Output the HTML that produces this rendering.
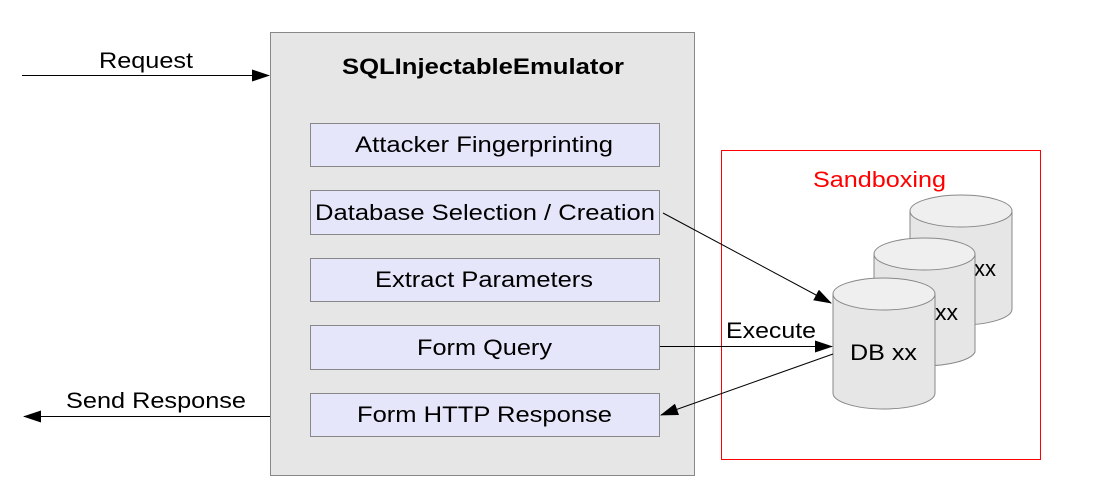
<!DOCTYPE html>
<html><head><style>
body{margin:0;background:#fff;width:1098px;height:493px;overflow:hidden}
svg text{font-family:"Liberation Sans",sans-serif}
</style></head><body>
<svg width="1098" height="493" viewBox="0 0 1098 493">
<defs>
<marker id="a" markerWidth="18" markerHeight="12" refX="17" refY="6" orient="auto" markerUnits="userSpaceOnUse"><path d="M0,0 L18,6 L0,12 Z" fill="#000"/></marker>
</defs>
<rect x="270.5" y="32.5" width="424" height="443" fill="#e6e6e6" stroke="#888"/>
<text x="342" y="74" font-size="22" font-weight="bold" textLength="282" lengthAdjust="spacingAndGlyphs">SQLInjectableEmulator</text>
<g fill="#e6e6fa" stroke="#888">
<rect x="310.5" y="123.5" width="349" height="43"/>
<rect x="310.5" y="190.5" width="349" height="44"/>
<rect x="310.5" y="258.5" width="349" height="43"/>
<rect x="310.5" y="325.5" width="349" height="44"/>
<rect x="310.5" y="393.5" width="349" height="43"/>
</g>
<g font-size="22" lengthAdjust="spacingAndGlyphs">
<text x="355" y="152" textLength="258" lengthAdjust="spacingAndGlyphs">Attacker Fingerprinting</text>
<text x="315" y="220" textLength="340" lengthAdjust="spacingAndGlyphs">Database Selection / Creation</text>
<text x="375" y="287" textLength="218" lengthAdjust="spacingAndGlyphs">Extract Parameters</text>
<text x="417" y="355" textLength="135" lengthAdjust="spacingAndGlyphs">Form Query</text>
<text x="357" y="422" textLength="255" lengthAdjust="spacingAndGlyphs">Form HTTP Response</text>
<text x="99" y="68" textLength="94" lengthAdjust="spacingAndGlyphs">Request</text>
<text x="66" y="408" textLength="180" lengthAdjust="spacingAndGlyphs">Send Response</text>
</g>
<line x1="22" y1="75.5" x2="269" y2="75.5" stroke="#000" marker-end="url(#a)"/>
<line x1="270" y1="416.5" x2="24" y2="416.5" stroke="#000" marker-end="url(#a)"/>
<rect x="721.5" y="150.5" width="319" height="309" fill="none" stroke="#f00"/>
<text x="813" y="187" font-size="22" fill="#f00" textLength="133" lengthAdjust="spacingAndGlyphs">Sandboxing</text>
<g stroke="#888" fill="#e6e6e6">
<path d="M910,211 V309 A51,16 0 0 0 1012,309 V211"/>
<ellipse cx="961" cy="211" rx="51" ry="16" fill="#efefef"/>
</g>
<text x="974" y="276" font-size="22" textLength="22" lengthAdjust="spacingAndGlyphs">xx</text>
<g stroke="#888" fill="#e6e6e6">
<path d="M874,254 V352 A51,16 0 0 0 975,352 V254"/>
<ellipse cx="924.5" cy="254" rx="50.5" ry="16" fill="#efefef"/>
</g>
<text x="935" y="320" font-size="22" textLength="23" lengthAdjust="spacingAndGlyphs">xx</text>
<g stroke="#888" fill="#e6e6e6">
<path d="M833,294 V393 A51,16 0 0 0 935,393 V294"/>
<ellipse cx="884" cy="294" rx="51" ry="16" fill="#efefef"/>
</g>
<text x="850" y="360" font-size="22" textLength="67" lengthAdjust="spacingAndGlyphs">DB xx</text>
<line x1="663" y1="213" x2="831" y2="303" stroke="#000" marker-end="url(#a)"/>
<line x1="660" y1="346.5" x2="832" y2="346.5" stroke="#000" marker-end="url(#a)"/>
<text x="726" y="338" font-size="22" textLength="90" lengthAdjust="spacingAndGlyphs">Execute</text>
<line x1="833" y1="354" x2="661" y2="415" stroke="#000" marker-end="url(#a)"/>
</svg>
</body></html>
